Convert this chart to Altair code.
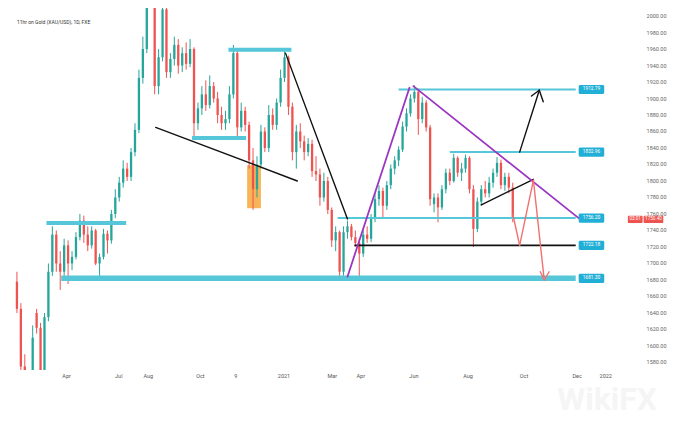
import altair as alt
import pandas as pd

# ---- candle data (one candle per slot) ----
opens = [1678,1645,1575,1500,1470,1640,1622,1560,1635,1690,1735,1700,1690,1722,1700,1708,1732,1752,1735,1722,
         1740,1700,1708,1736,1728,1760,1780,1798,1815,1805,1835,1862,1925,1960,2050,2060,1915,1950,2008,1932,
         1948,1965,1940,1955,1942,1960,1870,1888,1905,1892,1915,1900,1880,1870,1875,1905,1955,1865,1885,1868,
         1825,1790,1820,1860,1840,1880,1868,1895,1925,1950,1890,1835,1860,1848,1835,1845,1812,1808,1780,1800,
         1765,1728,1738,1690,1738,1745,1732,1725,1712,1735,1730,1755,1778,1788,1770,1795,1815,1825,1838,1866,
         1882,1900,1908,1875,1895,1865,1772,1780,1768,1790,1810,1800,1828,1810,1815,1828,1790,1742,1775,1790,
         1785,1798,1810,1822,1795,1805,1792]
highs = [1690,1652,1590,1530,1625,1645,1628,1640,1700,1745,1740,1715,1730,1728,1715,1738,1760,1758,1745,1745,
         1742,1712,1742,1740,1765,1790,1805,1825,1822,1840,1870,1935,1975,2075,2075,2070,1960,2015,2010,1955,
         1975,1972,1962,1968,1972,1962,1895,1915,1922,1928,1920,1908,1890,1885,1915,1965,1960,1895,1890,1872,
         1840,1830,1868,1865,1892,1888,1900,1935,1958,1952,1895,1868,1870,1855,1852,1850,1830,1815,1810,1805,
         1768,1745,1740,1745,1752,1748,1740,1730,1740,1745,1760,1785,1795,1792,1800,1820,1830,1842,1872,1888,
         1905,1916,1912,1902,1898,1868,1785,1785,1795,1815,1815,1833,1830,1822,1832,1830,1795,1780,1795,1800,
         1805,1815,1829,1826,1810,1810,1798]
lows = [1640,1560,1480,1455,1460,1615,1520,1555,1630,1685,1690,1668,1685,1675,1692,1705,1728,1725,1715,1718,
        1698,1680,1705,1712,1724,1755,1775,1792,1800,1800,1830,1858,1918,1955,2020,1905,1905,1945,1925,1925,
        1940,1930,1932,1935,1938,1853,1862,1880,1885,1888,1895,1870,1862,1862,1870,1900,1852,1860,1860,1815,
        1765,1780,1815,1835,1835,1862,1862,1890,1920,1880,1825,1815,1840,1825,1830,1805,1800,1770,1775,1760,
        1720,1715,1680,1685,1730,1728,1720,1680,1708,1725,1726,1750,1770,1755,1765,1790,1808,1818,1835,1860,
        1878,1895,1856,1870,1860,1770,1762,1750,1765,1785,1795,1798,1805,1800,1810,1785,1720,1738,1770,1780,
        1780,1792,1805,1790,1788,1785,1750]
closes = [1645,1575,1500,1470,1610,1622,1560,1635,1690,1735,1700,1690,1722,1700,1708,1732,1752,1735,1722,1740,
          1700,1708,1736,1728,1760,1780,1798,1815,1805,1835,1862,1925,1960,2050,2060,1915,1950,2008,1932,1948,
          1965,1940,1955,1942,1960,1870,1888,1905,1892,1915,1900,1880,1870,1875,1905,1955,1865,1885,1868,1825,
          1790,1820,1860,1840,1880,1868,1895,1925,1950,1890,1835,1860,1848,1835,1845,1812,1808,1780,1800,1765,
          1728,1738,1690,1738,1745,1732,1725,1712,1735,1730,1755,1778,1788,1770,1795,1815,1825,1838,1866,1882,
          1900,1908,1875,1895,1865,1778,1780,1768,1790,1810,1800,1828,1810,1815,1828,1790,1742,1775,1790,1785,
          1798,1810,1822,1795,1805,1792,1756]
slots = list(range(len(closes)))

# ---- axis ticks ----
x_tick_pos = [12.5, 25.75, 33.25, 46.5, 55.5, 67.75, 80, 87.25, 100.75, 114.5, 128.75, 142.25, 149.5]
x_tick_lab = ["Apr", "Jul", "Aug", "Oct", "9", "2021", "Mar", "Apr", "Jun", "Aug", "Oct", "Dec", "2022"]
y_ticks = list(range(1580, 2001, 20))
y_label_slot = 160

# ---- annotations (in slot / price units) ----
thick_x1 = [7.5, 44.5, 53.75]
thick_x2 = [27.75, 58.25, 69.75]
thick_y = [1749, 1852, 1959]
base_x1 = [11.25]
base_x2 = [142]
base_y = [1682]
lvl_x1 = [97, 110, 81.5]
lvl_x2 = [142, 142, 142]
lvl_y = [1911, 1835, 1755]
blk_h_x1 = [85.75]
blk_h_x2 = [142]
blk_h_y = [1722]
blk_x1 = [35.25, 68.25, 118, 127.75, 132.75, 132.75]
blk_y1 = [1865, 1955, 1771, 1835, 1910, 1910]
blk_x2 = [71.25, 84, 131.25, 132.75, 130.75, 133.75]
blk_y2 = [1800, 1754, 1802, 1910, 1903, 1896]
pur_x1 = [84, 100.75]
pur_y1 = [1684, 1915]
pur_x2 = [99.75, 142.75]
pur_y2 = [1913, 1755]
red_x1 = [126, 127.75, 131.25, 134, 134]
red_y1 = [1760, 1722, 1801, 1680, 1680]
red_x2 = [127.75, 131.25, 134, 133, 135.25]
red_y2 = [1722, 1801, 1680, 1690, 1690]
box_x1 = [58.5]
box_x2 = [62]
box_y1 = [1767]
box_y2 = [1819]
tag_price = [1911, 1835, 1755, 1722, 1682]
tag_text = ["1912.79", "1832.96", "1756.20", "1722.18", "1681.30"]
last_price = 1753.5
last_text = ["03:01", "1750.40"]

GREEN = "#26a69a"
RED = "#ef5350"
CYAN = "#56c6d9"
FONT = "Roboto"

X = alt.Scale(domain=[-1, 153], nice=False, zero=False)
Y = alt.Scale(domain=[1570.9, 2009.7], nice=False, zero=False)

label_expr = " : ".join(f"datum.value == {v} ? '{t}'" for v, t in zip(x_tick_pos, x_tick_lab)) + " : ''"

x_axis = alt.Axis(values=x_tick_pos, labelExpr=label_expr, tickSize=0, domain=False, grid=False,
                  labelFontSize=5.5, labelColor="#555555", labelPadding=3, labelFont=FONT, title="",
                  labelOverlap=False)
y_axis = alt.Axis(values=y_ticks, orient="right", ticks=False, labels=False, domain=False, grid=False,
                  title="")

df = pd.DataFrame({"i": slots, "open": opens, "high": highs, "low": lows, "close": closes})
color_cond = alt.condition("datum.close >= datum.open", alt.value(GREEN), alt.value(RED))

wm_df = pd.DataFrame({"x": [150], "y": [1534], "t": ["WikiFX"]})
watermark = alt.Chart(wm_df).mark_text(fontSize=32, fontWeight="bold", color="#f5f5f5", font=FONT).encode(
    x=alt.X("x:Q", scale=X, axis=x_axis, title=""),
    y=alt.Y("y:Q", scale=Y, axis=y_axis, title=""),
    text="t:N",
)

ylab_df = pd.DataFrame({"v": y_ticks})
ylab_df["x"] = y_label_slot
ylab_df["t"] = [f"{v:.2f}" for v in y_ticks]
y_labels = alt.Chart(ylab_df).mark_text(align="left", baseline="middle", fontSize=5.5, color="#666666",
                                        font=FONT).encode(
    x=alt.X("x:Q", scale=X, title=""),
    y=alt.Y("v:Q", scale=Y, title=""),
    text="t:N",
)

wick = alt.Chart(df).mark_rule(strokeWidth=1, clip=True).encode(
    x=alt.X("i:Q", scale=X, title=""),
    y=alt.Y("low:Q", scale=Y, title=""),
    y2="high:Q",
    color=color_cond,
)
body = alt.Chart(df).mark_bar(size=2.3, clip=True).encode(
    x=alt.X("i:Q", scale=X, title=""),
    y=alt.Y("open:Q", scale=Y, title=""),
    y2="close:Q",
    color=color_cond,
)

box_df = pd.DataFrame({"x1": box_x1, "x2": box_x2, "y1": box_y1, "y2": box_y2})
orange = alt.Chart(box_df).mark_rect(color="#f6ad45", opacity=0.9).encode(
    x=alt.X("x1:Q", scale=X, title=""), x2="x2:Q",
    y=alt.Y("y1:Q", scale=Y, title=""), y2="y2:Q",
)


def hlines(x1, x2, y, color, width):
    d = pd.DataFrame({"x1": x1, "x2": x2, "y": y})
    return alt.Chart(d).mark_rule(color=color, strokeWidth=width, strokeCap="butt").encode(
        x=alt.X("x1:Q", scale=X, title=""), x2="x2:Q",
        y=alt.Y("y:Q", scale=Y, title=""),
    )


def segs(x1, y1, x2, y2, color, width):
    d = pd.DataFrame({"x1": x1, "y1": y1, "x2": x2, "y2": y2})
    return alt.Chart(d).mark_rule(color=color, strokeWidth=width, strokeCap="round").encode(
        x=alt.X("x1:Q", scale=X, title=""), x2="x2:Q",
        y=alt.Y("y1:Q", scale=Y, title=""), y2="y2:Q",
    )


thick = hlines(thick_x1, thick_x2, thick_y, CYAN, 4)
base_line = hlines(base_x1, base_x2, base_y, CYAN, 5.5)
levels = hlines(lvl_x1, lvl_x2, lvl_y, CYAN, 2)
blk_h = hlines(blk_h_x1, blk_h_x2, blk_h_y, "#111111", 1.8)
blk = segs(blk_x1, blk_y1, blk_x2, blk_y2, "#111111", 1.4)
pur = segs(pur_x1, pur_y1, pur_x2, pur_y2, "#9c36c2", 1.8)
red = segs(red_x1, red_y1, red_x2, red_y2, "#f0716f", 1.4)

tag_df = pd.DataFrame({"p": tag_price, "t": tag_text})
tag_df["lo"] = tag_df["p"] - 5.5
tag_df["hi"] = tag_df["p"] + 5.5
tag_df["x1"] = 142.75
tag_df["x2"] = 149.25
tag_df["xc"] = 146
tag_boxes = alt.Chart(tag_df).mark_rect(color="#22afd6", cornerRadius=1.5).encode(
    x=alt.X("x1:Q", scale=X, title=""), x2="x2:Q",
    y=alt.Y("lo:Q", scale=Y, title=""), y2="hi:Q",
)
tag_texts = alt.Chart(tag_df).mark_text(color="white", fontSize=4.8, font=FONT).encode(
    x=alt.X("xc:Q", scale=X, title=""),
    y=alt.Y("p:Q", scale=Y, title=""),
    text="t:N",
)

last_df = pd.DataFrame({"x1": [155.25, 159.25], "x2": [159, 164.25], "xc": [157.1, 161.75],
                        "t": last_text})
last_df["lo"] = last_price - 4.5
last_df["hi"] = last_price + 4.5
last_df["p"] = last_price
last_boxes = alt.Chart(last_df).mark_rect(color=RED, cornerRadius=1).encode(
    x=alt.X("x1:Q", scale=X, title=""), x2="x2:Q",
    y=alt.Y("lo:Q", scale=Y, title=""), y2="hi:Q",
)
last_texts = alt.Chart(last_df).mark_text(color="white", fontSize=4.6, font=FONT).encode(
    x=alt.X("xc:Q", scale=X, title=""),
    y=alt.Y("p:Q", scale=Y, title=""),
    text="t:N",
)

title_df = pd.DataFrame({"x": [0], "y": [1992.7], "t": ["11hr on Gold (XAU/USD), 1D, FXE"]})
title_txt = alt.Chart(title_df).mark_text(align="left", fontSize=5, color="#333333", font=FONT).encode(
    x=alt.X("x:Q", scale=X, title=""),
    y=alt.Y("y:Q", scale=Y, title=""),
    text="t:N",
)

chart = alt.layer(
    watermark, y_labels, orange, wick, body, thick, base_line, levels, blk_h, blk, pur, red,
    tag_boxes, tag_texts, last_boxes, last_texts, title_txt,
).properties(width=616, height=362, padding=0, background="white").configure_view(
    strokeWidth=0
).configure_axis(labelOverlap=False)

chart.save("out.html", embed_options={"renderer": "svg", "actions": False})
